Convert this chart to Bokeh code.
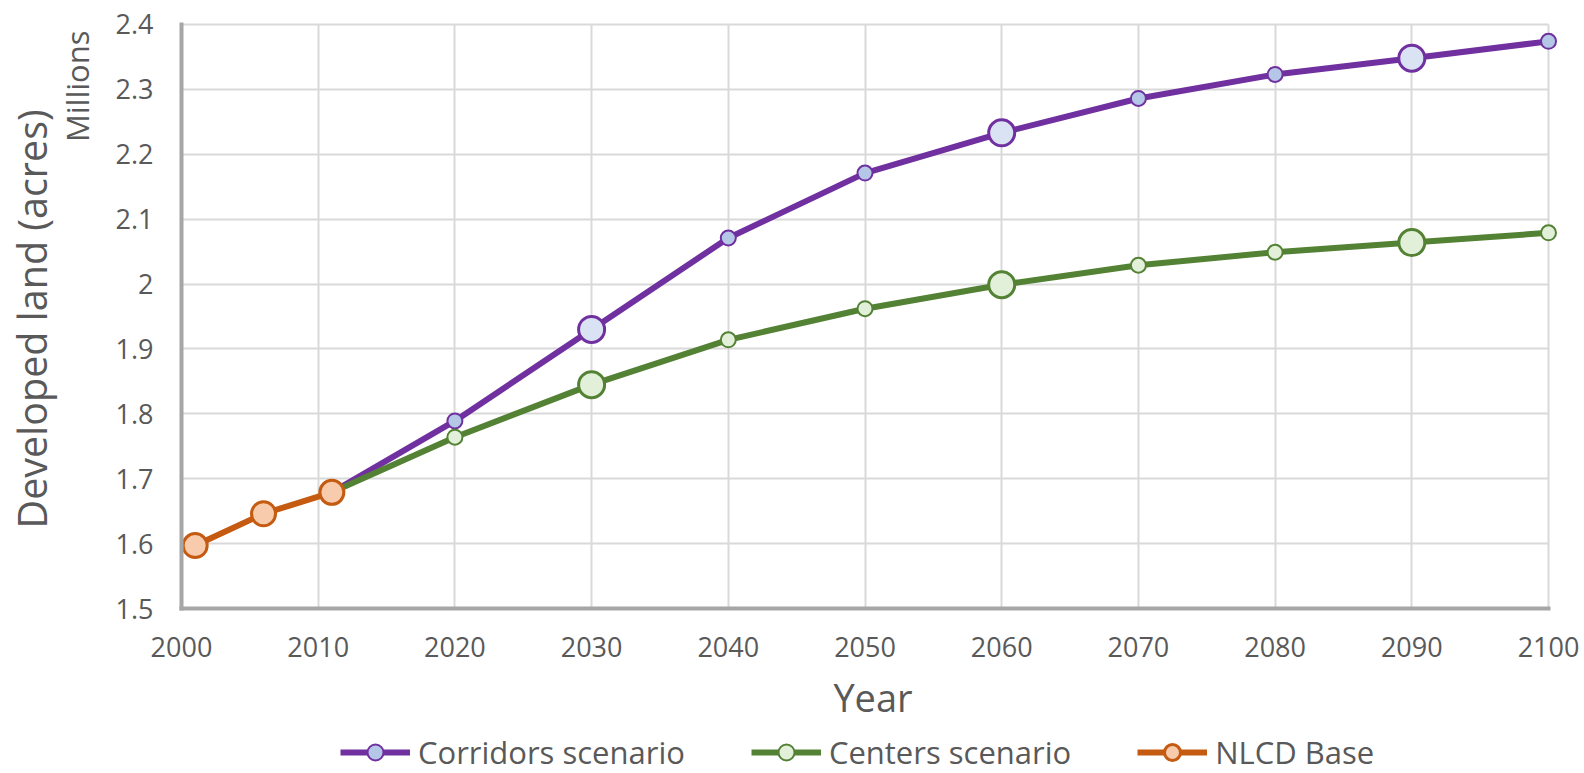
from bokeh.plotting import figure
from bokeh.layouts import column
from bokeh.models import Range1d, FixedTicker, Legend, LegendItem, Title
from bokeh.embed import file_html
from bokeh.resources import INLINE

# ---------------- data (values in millions of acres) ----------------
years = [2011, 2020, 2030, 2040, 2050, 2060, 2070, 2080, 2090, 2100]
corridors = [1.679, 1.789, 1.930, 2.071, 2.171, 2.233, 2.286, 2.323, 2.348, 2.374]
centers = [1.679, 1.764, 1.845, 1.914, 1.962, 1.999, 2.029, 2.049, 2.064, 2.079]
nlcd_years = [2001, 2006, 2011]
nlcd = [1.597, 1.646, 1.679]
highlight_years = [2030, 2060, 2090]

x_ticks = [2000, 2010, 2020, 2030, 2040, 2050, 2060, 2070, 2080, 2090, 2100]
y_ticks = [1.5, 1.6, 1.7, 1.8, 1.9, 2.0, 2.1, 2.2, 2.3, 2.4]
y_tick_labels = ["1.5", "1.6", "1.7", "1.8", "1.9", "2", "2.1", "2.2", "2.3", "2.4"]

series_names = ["Corridors scenario", "Centers scenario", "NLCD Base"]
x_title = "Year"
y_title = "Developed land (acres)"
unit_title = "Millions"

# ---------------- styles ----------------
FONT = "Open Sans"
TEXT = "#595959"
PURPLE, PURPLE_FILL, PURPLE_FILL_BIG = "#7030a0", "#b4c7e7", "#dae3f3"
GREEN, GREEN_FILL = "#548235", "#e2f0d9"
ORANGE, ORANGE_FILL = "#c55a11", "#f8cbad"

p = figure(width=1584, height=727, output_backend="svg", toolbar_location=None,
           x_range=Range1d(2000, 2101.17), y_range=Range1d(1.5, 2.4154),
           min_border_left=181, min_border_right=20, min_border_top=14,
           min_border_bottom=119)
p.outline_line_color = None
p.background_fill_color = "white"
p.border_fill_color = "white"

p.xaxis.ticker = FixedTicker(ticks=x_ticks)
p.yaxis.ticker = FixedTicker(ticks=y_ticks)
p.yaxis.major_label_overrides = {t: s for t, s in zip(y_ticks, y_tick_labels)}
for ax in (p.xaxis[0], p.yaxis[0]):
    ax.axis_line_color = "#a6a6a6"
    ax.axis_line_width = 4
    ax.axis_line_cap = "square"
    ax.major_tick_line_color = None
    ax.minor_tick_line_color = None
    ax.major_label_text_font = FONT
    ax.major_label_text_font_size = "27px"
    ax.major_label_text_color = TEXT
p.xaxis.bounds = (2000, 2100)
p.yaxis.bounds = (1.5, 2.4)
p.xaxis.major_label_standoff = 22
p.yaxis.major_label_standoff = 22
p.xaxis.axis_label = x_title
p.xaxis.axis_label_text_font = FONT
p.xaxis.axis_label_text_font_size = "38px"
p.xaxis.axis_label_text_font_style = "normal"
p.xaxis.axis_label_text_color = TEXT
p.xaxis.axis_label_standoff = 11

p.add_layout(Title(text=unit_title, align="right", offset=16, standoff=30,
                   text_font=FONT, text_font_size="31px", text_font_style="normal",
                   text_color=TEXT), "left")
p.add_layout(Title(text=y_title, align="left", offset=80, standoff=-40,
                   text_font=FONT, text_font_size="39.5px", text_font_style="normal",
                   text_color=TEXT), "left")

p.grid.grid_line_color = "#d9d9d9"
p.grid.grid_line_width = 2
try:
    p.xgrid[0].cross_bounds = (1.5, 2.4)
    p.ygrid[0].cross_bounds = (2000, 2100)
except Exception:
    pass


def add_series(fig, xs, ys, color, fill, fill_big, lw=6):
    ln = fig.line(xs, ys, line_color=color, line_width=lw)
    sx = [x for x in xs if x not in highlight_years and x not in nlcd_years]
    sy = [y for x, y in zip(xs, ys) if x not in highlight_years and x not in nlcd_years]
    sm = fig.scatter(sx, sy, size=15, fill_color=fill, line_color=color, line_width=2)
    bx = [x for x in xs if x in highlight_years]
    by = [y for x, y in zip(xs, ys) if x in highlight_years]
    fig.scatter(bx, by, size=26, fill_color=fill_big, line_color=color, line_width=3)
    return ln, sm


def add_base(fig):
    ln = fig.line(nlcd_years, nlcd, line_color=ORANGE, line_width=6)
    sm = fig.scatter(nlcd_years, nlcd, size=24, fill_color=ORANGE_FILL,
                     line_color=ORANGE, line_width=3)
    return ln, sm


add_series(p, years, corridors, PURPLE, PURPLE_FILL, PURPLE_FILL_BIG)
add_series(p, years, centers, GREEN, GREEN_FILL, GREEN_FILL)
add_base(p)

# ---------------- legend strip below the chart ----------------
# same series re-drawn on a strip whose ranges keep them out of view,
# only their legend glyphs show
lf = figure(width=1584, height=46, output_backend="svg", toolbar_location=None,
            x_range=Range1d(0, 1), y_range=Range1d(0, 1),
            x_axis_type=None, y_axis_type=None,
            min_border_left=0, min_border_right=0, min_border_top=0, min_border_bottom=0)
lf.outline_line_color = None
lf.grid.visible = False
lf.background_fill_color = "white"
lf.border_fill_color = "white"

r1 = add_series(lf, years, corridors, PURPLE, PURPLE_FILL, PURPLE_FILL_BIG)
r2 = add_series(lf, years, centers, GREEN, GREEN_FILL, GREEN_FILL)
r3 = add_base(lf)

legend = Legend(items=[LegendItem(label=n, renderers=list(r))
                       for n, r in zip(series_names, [r1, r2, r3])],
                location=(159, 0), orientation="horizontal",
                border_line_color=None, background_fill_alpha=0,
                padding=0, margin=0, spacing=66, glyph_width=70, glyph_height=40,
                label_standoff=8, label_text_font=FONT, label_text_font_size="31px",
                label_text_color=TEXT)
lf.add_layout(legend)

page = column(p, lf, spacing=0)
open("out.html", "w").write(file_html(page, INLINE))
